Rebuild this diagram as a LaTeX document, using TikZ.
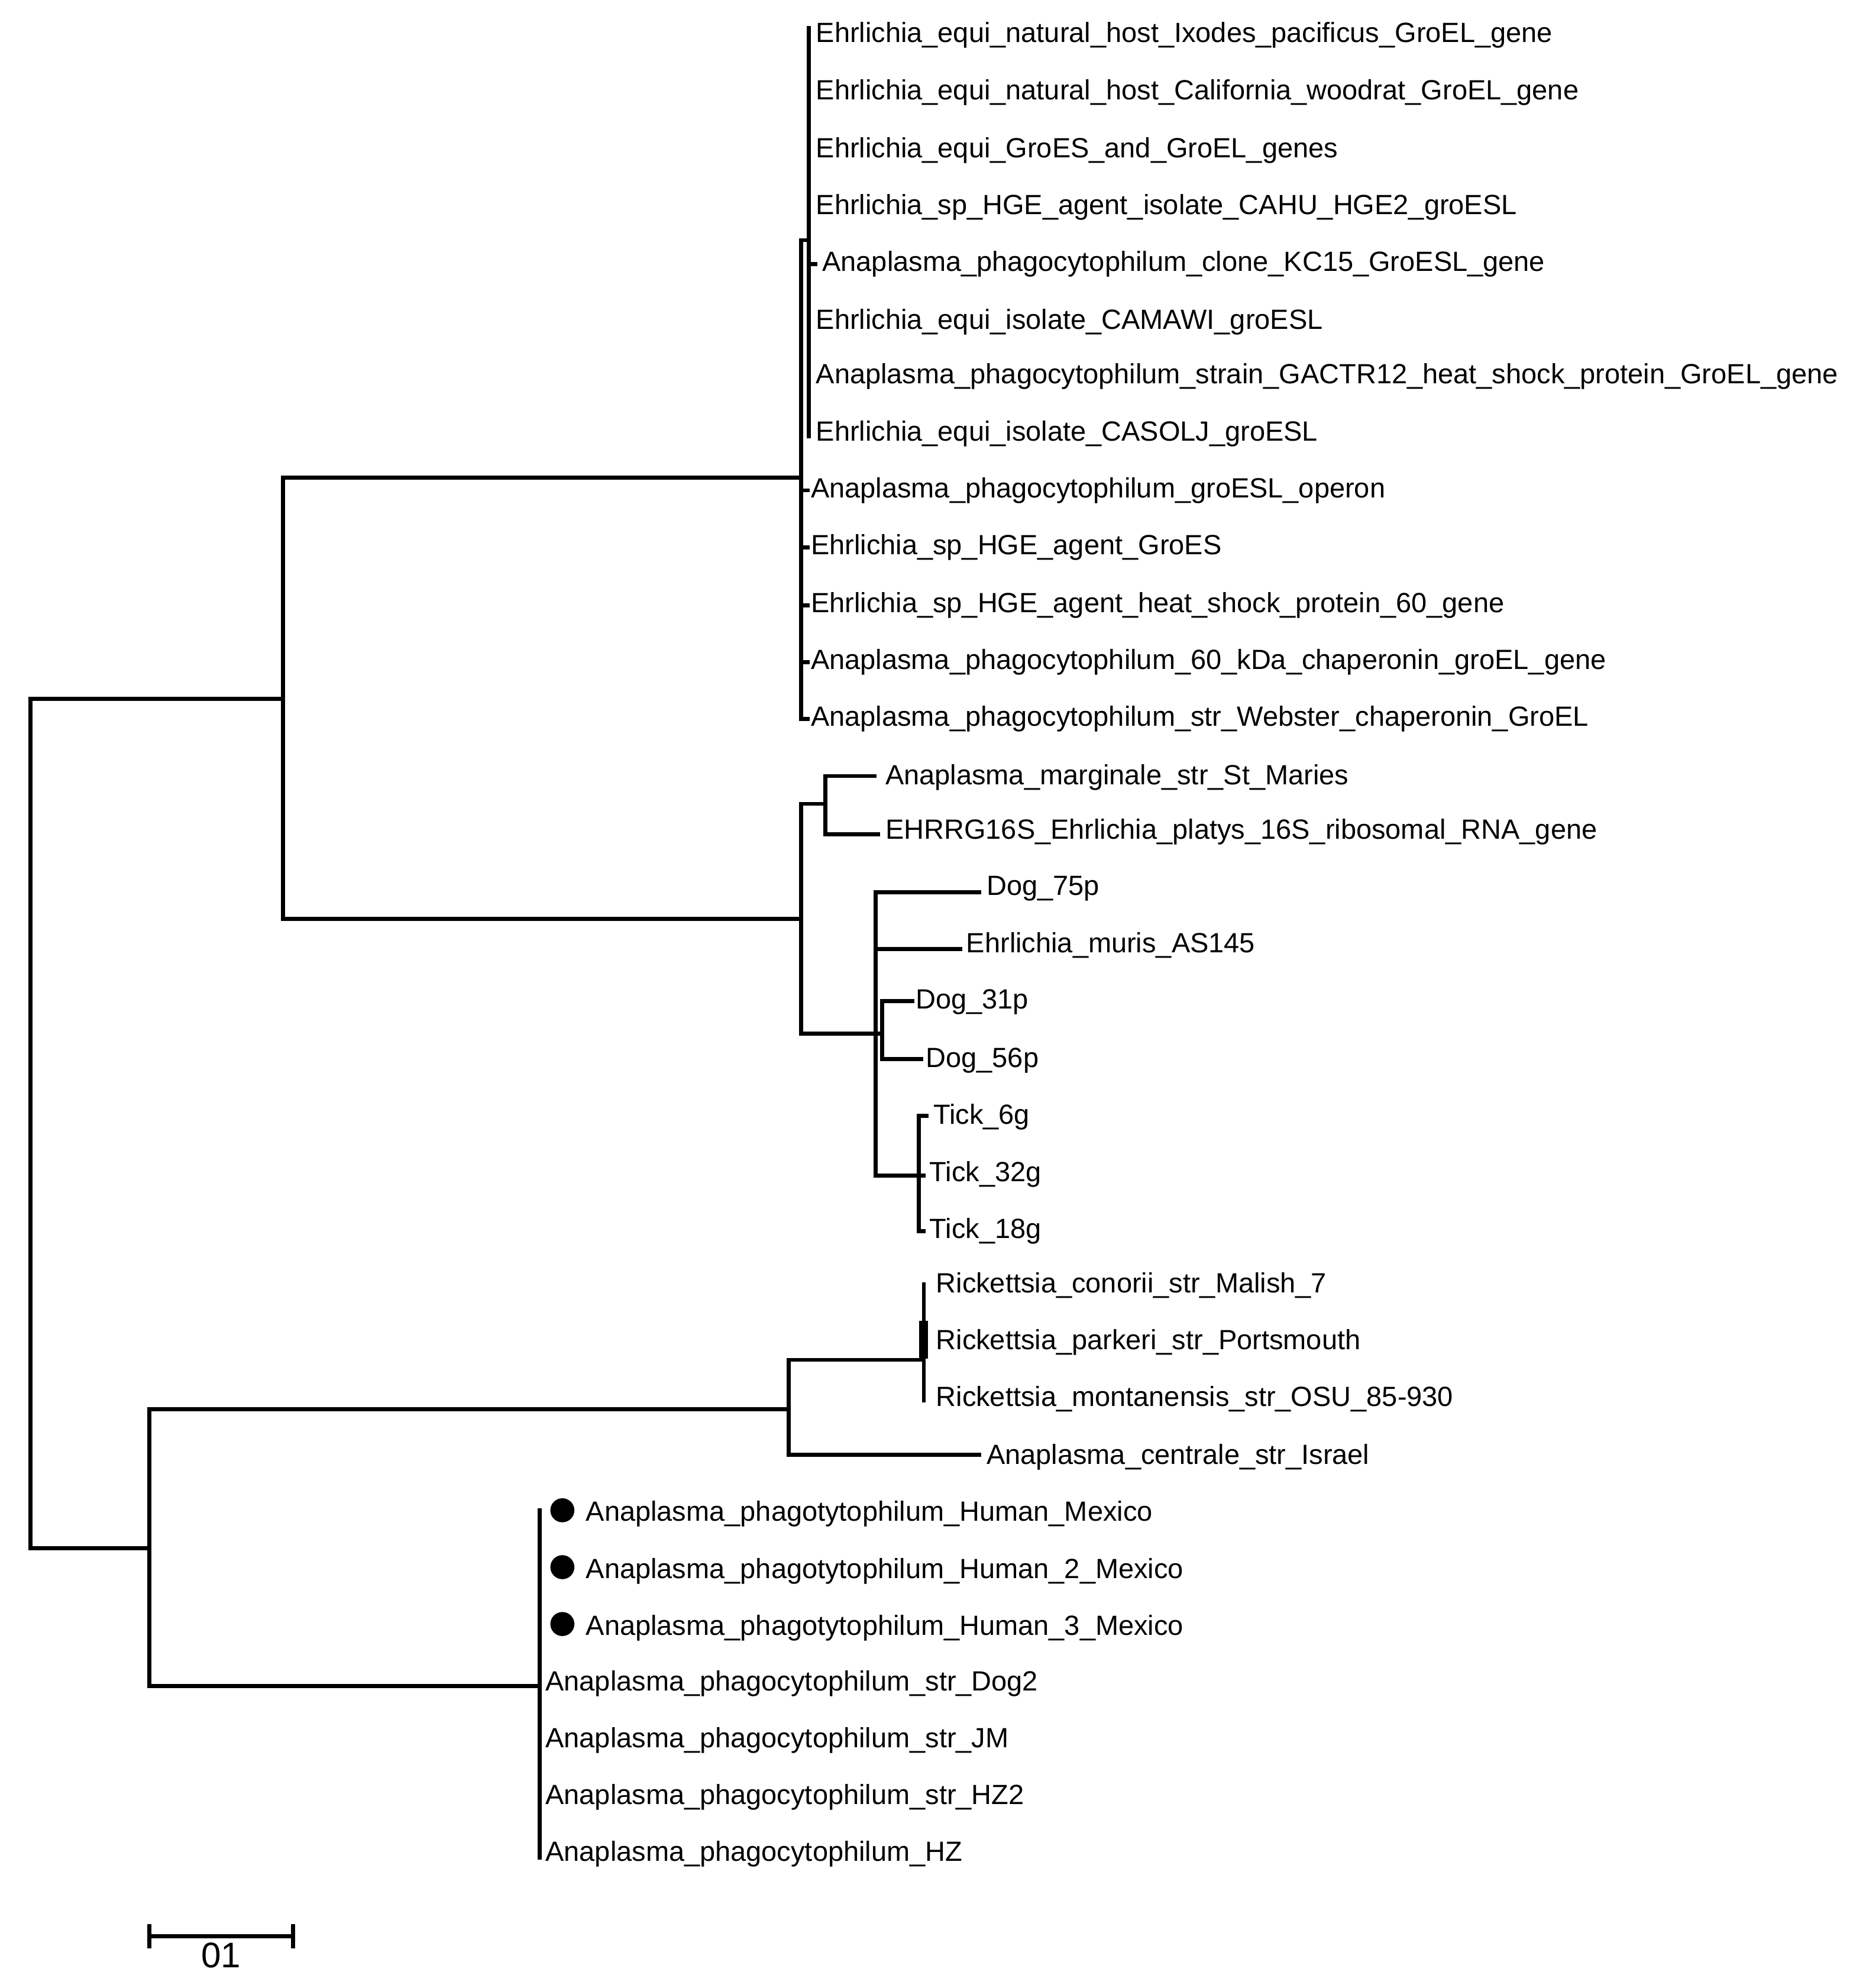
\documentclass[tikz,border=0pt]{standalone}
\usepackage{fontspec}
\setmainfont{Liberation Sans}
\begin{document}
\begin{tikzpicture}[x=0.01cm,y=-0.01cm,
  lab/.style={anchor=west,inner sep=0pt,yshift=-0.03cm,font=\fontsize{6.25}{7}\selectfont},
  br/.style={line width=0.9pt,line cap=rect},
  dot/.style={circle,fill=black,inner sep=0pt,minimum size=0.19cm}]
\useasboundingbox (0,0) rectangle (1466,1573);
% leaves
\node[lab] (a1) at (645,25) {Ehrlichia\_equi\_natural\_host\_Ixodes\_pacificus\_GroEL\_gene};
\node[lab] (a2) at (645,70) {Ehrlichia\_equi\_natural\_host\_California\_woodrat\_GroEL\_gene};
\node[lab] (a3) at (645,116) {Ehrlichia\_equi\_GroES\_and\_GroEL\_genes};
\node[lab] (a4) at (645,161) {Ehrlichia\_sp\_HGE\_agent\_isolate\_CAHU\_HGE2\_groESL};
\node[lab] (a5) at (650,206) {Anaplasma\_phagocytophilum\_clone\_KC15\_GroESL\_gene};
\node[lab] (a6) at (645,252) {Ehrlichia\_equi\_isolate\_CAMAWI\_groESL};
\node[lab] (a7) at (645,295) {Anaplasma\_phagocytophilum\_strain\_GACTR12\_heat\_shock\_protein\_GroEL\_gene};
\node[lab] (a8) at (645,340) {Ehrlichia\_equi\_isolate\_CASOLJ\_groESL};
\node[lab] (a9) at (641,385) {Anaplasma\_phagocytophilum\_groESL\_operon};
\node[lab] (a10) at (641,430) {Ehrlichia\_sp\_HGE\_agent\_GroES};
\node[lab] (a11) at (641,476) {Ehrlichia\_sp\_HGE\_agent\_heat\_shock\_protein\_60\_gene};
\node[lab] (a12) at (641,521) {Anaplasma\_phagocytophilum\_60\_kDa\_chaperonin\_groEL\_gene};
\node[lab] (a13) at (641,566) {Anaplasma\_phagocytophilum\_str\_Webster\_chaperonin\_GroEL};
\node[lab] (b1) at (700,612) {Anaplasma\_marginale\_str\_St\_Maries};
\node[lab] (b2) at (700,655) {EHRRG16S\_Ehrlichia\_platys\_16S\_ribosomal\_RNA\_gene};
\node[lab] (c1) at (780,700) {Dog\_75p};
\node[lab] (c2) at (764,745) {Ehrlichia\_muris\_AS145};
\node[lab] (c3) at (724,790) {Dog\_31p};
\node[lab] (c4) at (732,836) {Dog\_56p};
\node[lab] (c5) at (738,881) {Tick\_6g};
\node[lab] (c6) at (735,926) {Tick\_32g};
\node[lab] (c7) at (735,971) {Tick\_18g};
\node[lab] (r1) at (740,1014) {Rickettsia\_conorii\_str\_Malish\_7};
\node[lab] (r2) at (740,1059) {Rickettsia\_parkeri\_str\_Portsmouth};
\node[lab] (r3) at (740,1104) {Rickettsia\_montanensis\_str\_OSU\_85-930};
\node[lab] (r4) at (780,1150) {Anaplasma\_centrale\_str\_Israel};
\node[lab] (h1) at (463,1195) {Anaplasma\_phagotytophilum\_Human\_Mexico};
\node[lab] (h2) at (463,1240) {Anaplasma\_phagotytophilum\_Human\_2\_Mexico};
\node[lab] (h3) at (463,1285) {Anaplasma\_phagotytophilum\_Human\_3\_Mexico};
\node[lab] (h4) at (431,1329) {Anaplasma\_phagocytophilum\_str\_Dog2};
\node[lab] (h5) at (431,1374) {Anaplasma\_phagocytophilum\_str\_JM};
\node[lab] (h6) at (431,1419) {Anaplasma\_phagocytophilum\_str\_HZ2};
\node[lab] (h7) at (431,1464) {Anaplasma\_phagocytophilum\_HZ};
\node[dot] (d1) at (445,1195) {};
\node[dot] (d2) at (445,1240) {};
\node[dot] (d3) at (445,1285) {};
% internal nodes
\coordinate (nU) at (224,553);
\coordinate (nA) at (634,378);
\coordinate (nA2) at (640,190);
\coordinate (nM) at (634,727);
\coordinate (nB) at (653,636);
\coordinate (nC) at (693,818);
\coordinate (nD) at (698,818);
\coordinate (nT) at (727,930);
\coordinate (nL) at (118,1225);
\coordinate (nR) at (624,1115);
\coordinate (nRk) at (731,1076);
\coordinate (nH) at (427,1334);
% branches
\draw[br] (24,553) -- (24,1225);
\draw[br] (24,553) -- (nU); \draw[br] (24,1225) -- (nL);
\draw[br] (224,378) -- (224,727);
\draw[br] (224,378) -- (nA); \draw[br] (224,727) -- (nM);
\draw[br] (634,190) -- (634,569);
\draw[br] (634,190) -- (nA2);
\draw[br] (640,22) -- (640,345);
\draw[br] (640,209) -- (645,209);
\foreach \y in {388,433,479,524,569} \draw[br] (634,\y) -- (639,\y);
\draw[br] (634,636) -- (634,818);
\draw[br] (634,636) -- (nB); \draw[br] (634,818) -- (nC);
\draw[br] (653,614) -- (653,660);
\draw[br] (653,614) -- (692,614); \draw[br] (653,660) -- (695,660);
\draw[br] (693,706) -- (693,930);
\draw[br] (693,706) -- (775,706); \draw[br] (693,751) -- (760,751);
\draw[br] (nC) -- (nD);
\draw[br] (698,792) -- (698,838);
\draw[br] (698,792) -- (722,792); \draw[br] (698,838) -- (729,838);
\draw[br] (693,930) -- (nT);
\draw[br] (727,883) -- (727,974);
\draw[br] (727,883) -- (733,883); \draw[br] (727,974) -- (731,974);
\draw[br] (727,930) -- (731,930);
\draw[br] (118,1115) -- (118,1334);
\draw[br] (118,1115) -- (nR); \draw[br] (118,1334) -- (nH);
\draw[br] (624,1076) -- (624,1151);
\draw[br] (624,1076) -- (nRk); \draw[br] (624,1151) -- (775,1151);
\draw[br] (731,1016) -- (731,1108);
\draw[line width=2pt] (731,1045) -- (731,1075);
\draw[br] (427,1195) -- (427,1470);
% scale bar
\draw[br] (118,1532) -- (232,1532);
\draw[br] (118,1524) -- (118,1540); \draw[br] (232,1524) -- (232,1540);
\node[inner sep=0pt,font=\fontsize{8}{9}\selectfont] (sc) at (175,1547) {01};
\end{tikzpicture}
\end{document}
